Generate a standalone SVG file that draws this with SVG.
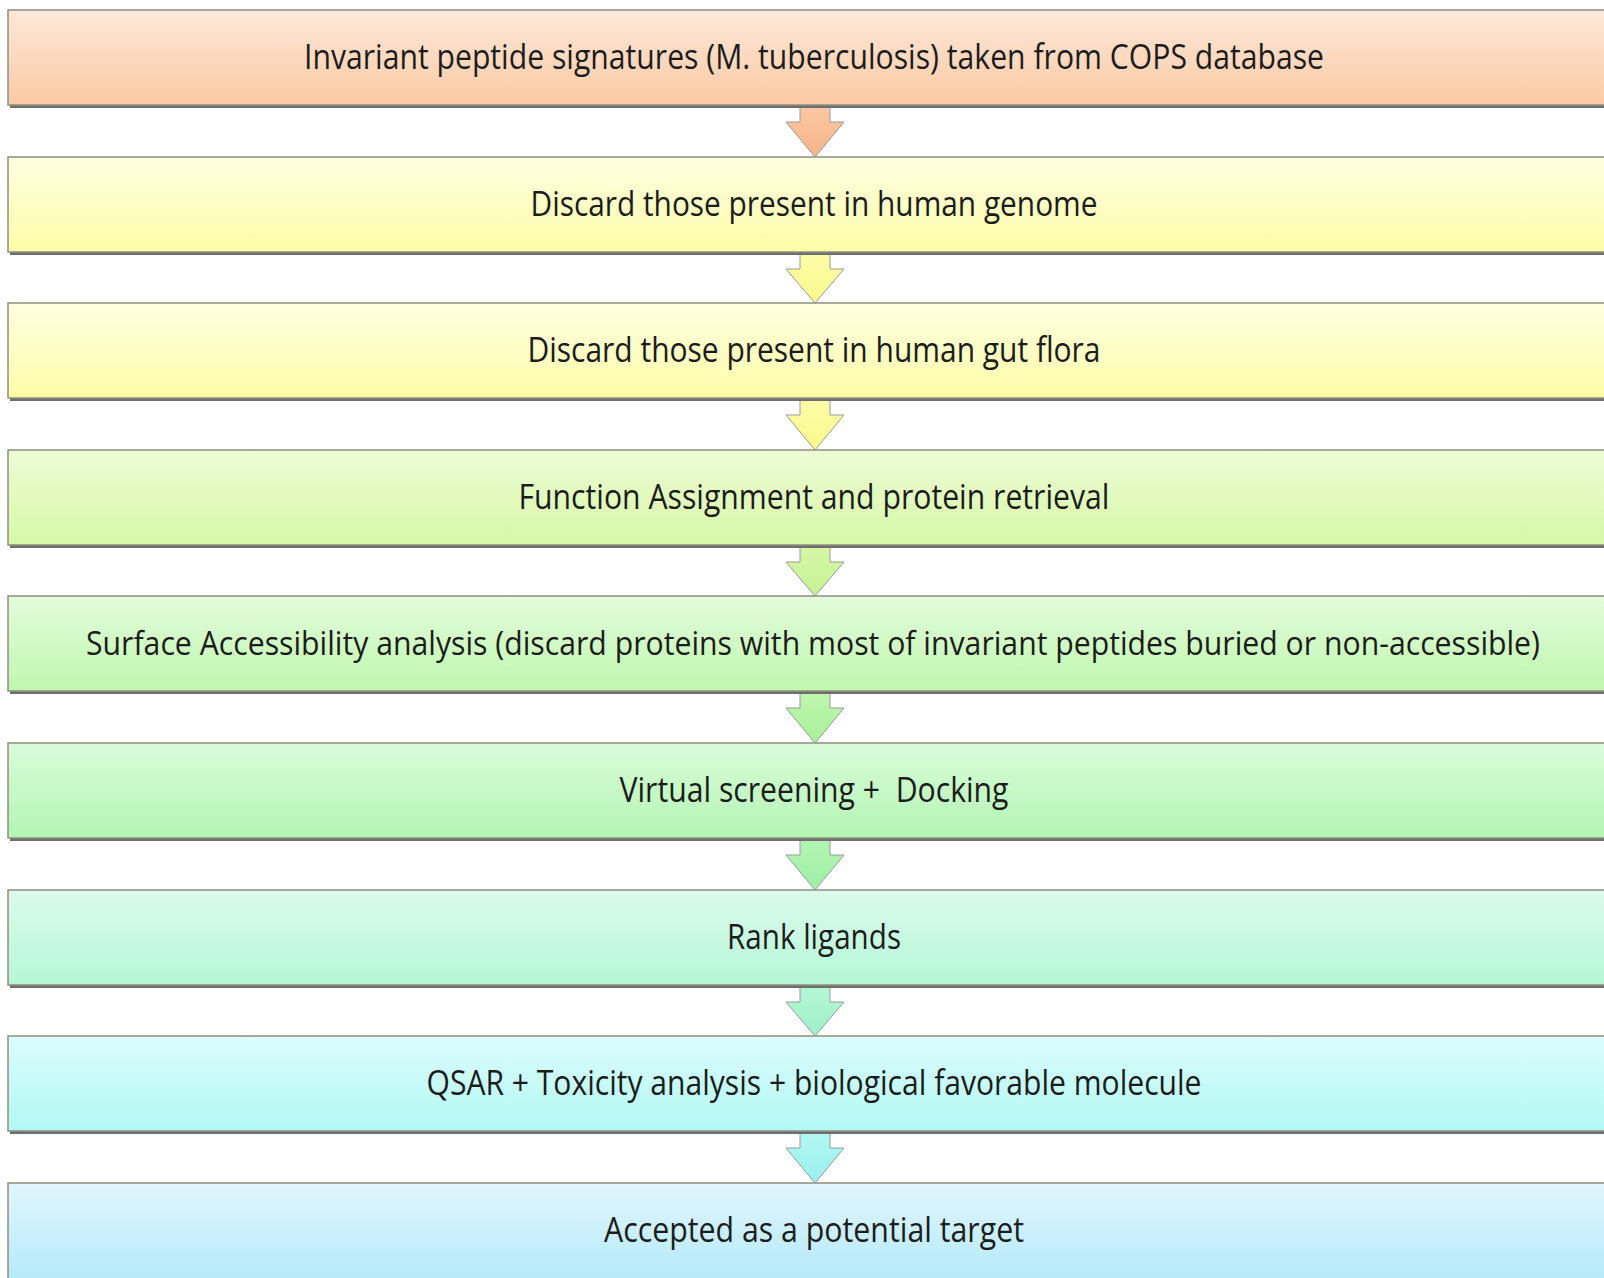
<svg xmlns="http://www.w3.org/2000/svg" width="1604" height="1278" viewBox="0 0 1604 1278">
<style>
.box{stroke:#8f8f80;stroke-width:1.5}
.shadow{fill:#6e6e6e}
.lbl{font-family:"Open Sans","Noto Sans","Liberation Sans",sans-serif;font-size:35px;fill:#1c1c1c;text-anchor:middle}
.long{font-size:33px}
.arr{stroke:#9a9a9a;stroke-width:1}
</style>
<defs>
<linearGradient id="g1" x1="0" y1="0" x2="0" y2="1"><stop offset="0" stop-color="#fde8da"/><stop offset="1" stop-color="#fbcaa4"/></linearGradient>
<linearGradient id="g2" x1="0" y1="0" x2="0" y2="1"><stop offset="0" stop-color="#fefee2"/><stop offset="1" stop-color="#fdfda8"/></linearGradient>
<linearGradient id="g4" x1="0" y1="0" x2="0" y2="1"><stop offset="0" stop-color="#eefcd6"/><stop offset="1" stop-color="#d6f8a6"/></linearGradient>
<linearGradient id="g5" x1="0" y1="0" x2="0" y2="1"><stop offset="0" stop-color="#e4fcdc"/><stop offset="1" stop-color="#bff7ae"/></linearGradient>
<linearGradient id="g6" x1="0" y1="0" x2="0" y2="1"><stop offset="0" stop-color="#dafcda"/><stop offset="1" stop-color="#b3f5b3"/></linearGradient>
<linearGradient id="g7" x1="0" y1="0" x2="0" y2="1"><stop offset="0" stop-color="#dcfbec"/><stop offset="1" stop-color="#b5f7d6"/></linearGradient>
<linearGradient id="g8" x1="0" y1="0" x2="0" y2="1"><stop offset="0" stop-color="#dcfdfd"/><stop offset="1" stop-color="#b2f8f3"/></linearGradient>
<linearGradient id="g9" x1="0" y1="0" x2="0" y2="1"><stop offset="0" stop-color="#e2f6fd"/><stop offset="1" stop-color="#aee8fa"/></linearGradient>
<linearGradient id="a1" x1="0" y1="0" x2="0" y2="1"><stop offset="0" stop-color="#fbc8a2"/><stop offset="1" stop-color="#f8b48a"/></linearGradient>
<linearGradient id="a2" x1="0" y1="0" x2="0" y2="1"><stop offset="0" stop-color="#fdfda8"/><stop offset="1" stop-color="#f9f98e"/></linearGradient>
<linearGradient id="a4" x1="0" y1="0" x2="0" y2="1"><stop offset="0" stop-color="#d6f8a6"/><stop offset="1" stop-color="#c4f294"/></linearGradient>
<linearGradient id="a5" x1="0" y1="0" x2="0" y2="1"><stop offset="0" stop-color="#bff7ae"/><stop offset="1" stop-color="#a8f09a"/></linearGradient>
<linearGradient id="a6" x1="0" y1="0" x2="0" y2="1"><stop offset="0" stop-color="#b3f5b3"/><stop offset="1" stop-color="#9eefa8"/></linearGradient>
<linearGradient id="a7" x1="0" y1="0" x2="0" y2="1"><stop offset="0" stop-color="#b5f7d6"/><stop offset="1" stop-color="#9ef0c8"/></linearGradient>
<linearGradient id="a8" x1="0" y1="0" x2="0" y2="1"><stop offset="0" stop-color="#b2f8f3"/><stop offset="1" stop-color="#98f0ee"/></linearGradient>
</defs>

<g id="connectors">
<path class="arr" fill="url(#a1)" d="M800,106 L830,106 L830,122 L844,122 L815,157 L786,122 L800,122 Z"/>
<path class="arr" fill="url(#a2)" d="M800,253 L830,253 L830,269 L844,269 L815,303 L786,269 L800,269 Z"/>
<path class="arr" fill="url(#a2)" d="M800,399 L830,399 L830,415 L844,415 L815,450 L786,415 L800,415 Z"/>
<path class="arr" fill="url(#a4)" d="M800,546 L830,546 L830,562 L844,562 L815,596 L786,562 L800,562 Z"/>
<path class="arr" fill="url(#a5)" d="M800,692 L830,692 L830,708 L844,708 L815,743 L786,708 L800,708 Z"/>
<path class="arr" fill="url(#a6)" d="M800,839 L830,839 L830,855 L844,855 L815,890 L786,855 L800,855 Z"/>
<path class="arr" fill="url(#a7)" d="M800,986 L830,986 L830,1002 L844,1002 L815,1036 L786,1002 L800,1002 Z"/>
<path class="arr" fill="url(#a8)" d="M800,1132 L830,1132 L830,1148 L844,1148 L815,1183 L786,1148 L800,1148 Z"/>
</g>

<g id="n1">
<rect class="shadow" x="10" y="103" width="1594" height="5"/>
<rect class="box" x="8" y="10" width="1598" height="95" fill="url(#g1)"/>
<text class="lbl" x="814" y="69" textLength="1020" lengthAdjust="spacingAndGlyphs">Invariant peptide signatures (M. tuberculosis) taken from COPS database</text>
</g>
<g id="n2">
<rect class="shadow" x="10" y="250" width="1594" height="5"/>
<rect class="box" x="8" y="157" width="1598" height="95" fill="url(#g2)"/>
<text class="lbl" x="814" y="216" textLength="567" lengthAdjust="spacingAndGlyphs">Discard those present in human genome</text>
</g>
<g id="n3">
<rect class="shadow" x="10" y="396" width="1594" height="5"/>
<rect class="box" x="8" y="303" width="1598" height="95" fill="url(#g2)"/>
<text class="lbl" x="814" y="362" textLength="573" lengthAdjust="spacingAndGlyphs">Discard those present in human gut flora</text>
</g>
<g id="n4">
<rect class="shadow" x="10" y="543" width="1594" height="5"/>
<rect class="box" x="8" y="450" width="1598" height="95" fill="url(#g4)"/>
<text class="lbl" x="814" y="509" textLength="591" lengthAdjust="spacingAndGlyphs">Function Assignment and protein retrieval</text>
</g>
<g id="n5">
<rect class="shadow" x="10" y="689" width="1594" height="5"/>
<rect class="box" x="8" y="596" width="1598" height="95" fill="url(#g5)"/>
<text class="lbl long" x="813" y="655" textLength="1454" lengthAdjust="spacingAndGlyphs">Surface Accessibility analysis (discard proteins with most of invariant peptides buried or non-accessible)</text>
</g>
<g id="n6">
<rect class="shadow" x="10" y="836" width="1594" height="5"/>
<rect class="box" x="8" y="743" width="1598" height="95" fill="url(#g6)"/>
<text class="lbl" x="814" y="802" textLength="389" lengthAdjust="spacingAndGlyphs" xml:space="preserve">Virtual screening +  Docking</text>
</g>
<g id="n7">
<rect class="shadow" x="10" y="983" width="1594" height="5"/>
<rect class="box" x="8" y="890" width="1598" height="95" fill="url(#g7)"/>
<text class="lbl" x="814" y="949" textLength="174" lengthAdjust="spacingAndGlyphs">Rank ligands</text>
</g>
<g id="n8">
<rect class="shadow" x="10" y="1129" width="1594" height="5"/>
<rect class="box" x="8" y="1036" width="1598" height="95" fill="url(#g8)"/>
<text class="lbl" x="814" y="1095" textLength="775" lengthAdjust="spacingAndGlyphs">QSAR + Toxicity analysis + biological favorable molecule</text>
</g>
<g id="n9">
<rect class="box" x="8" y="1183" width="1598" height="110" fill="url(#g9)"/>
<text class="lbl" x="814" y="1242" textLength="420" lengthAdjust="spacingAndGlyphs">Accepted as a potential target</text>
</g>
</svg>
